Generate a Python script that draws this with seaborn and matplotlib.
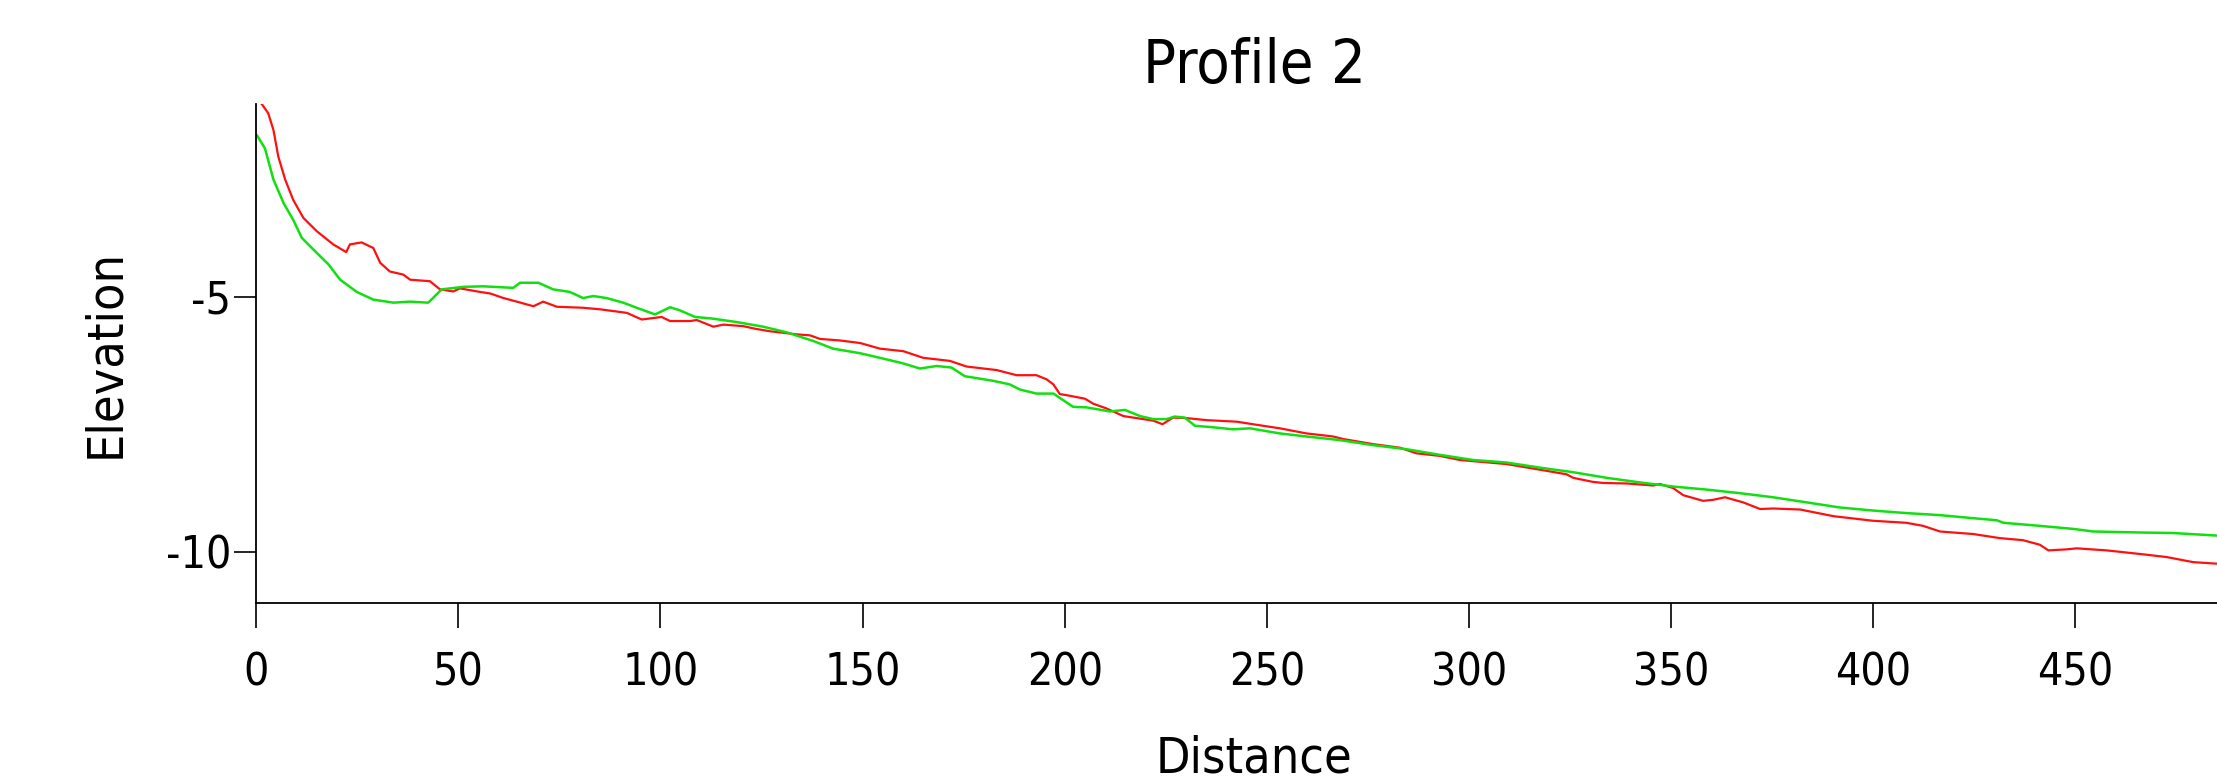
import numpy as np
import pandas as pd
import matplotlib
matplotlib.use('Agg')
import matplotlib.pyplot as plt
import seaborn as sns

# 读图得到的剖面数据 (距离, 高程)
dist_red = [0.5, 1.4, 3.0, 4.3, 5.5, 7.2, 9.2, 11.7, 15.0, 19.1, 22.3, 23.2, 26.1, 29.0, 30.7,
            33.1, 36.4, 38.1, 43.0, 45.5, 48.8, 50.4, 55.4, 57.9, 61.2, 64.5, 68.6, 71.0, 74.4,
            80.9, 85.1, 91.7, 95.4, 100.3, 102.4, 107.3, 109.0, 113.1, 115.6, 120.5, 123.4,
            127.1, 133.7, 137.0, 139.5, 144.4, 149.4, 154.3, 160.1, 165.0, 171.6, 175.7, 183.2,
            188.1, 193.0, 195.5, 197.2, 198.8, 200.4, 205.0, 207.1, 210.3, 214.5, 218.6, 221.9,
            224.2, 226.8, 230.1, 235.1, 242.5, 247.4, 253.2, 259.8, 266.4, 268.9, 276.3, 282.9,
            287.0, 292.8, 297.7, 309.3, 317.5, 324.1, 325.8, 330.7, 333.2, 339.0, 345.6, 347.2,
            350.5, 353.0, 357.9, 360.4, 363.3, 367.8, 372.0, 375.2, 381.9, 390.1, 399.9, 408.2,
            412.3, 416.5, 424.7, 431.3, 437.0, 441.2, 443.3, 447.8, 450.3, 457.7, 465.9, 472.5,
            479.1, 484.9]
elev_red = [-1.15, -1.23, -1.41, -1.74, -2.26, -2.71, -3.11, -3.46, -3.72, -3.98, -4.13, -3.98,
            -3.94, -4.05, -4.34, -4.51, -4.57, -4.67, -4.70, -4.86, -4.90, -4.84, -4.91, -4.94,
            -5.03, -5.10, -5.19, -5.10, -5.20, -5.22, -5.25, -5.32, -5.45, -5.40, -5.48, -5.48,
            -5.46, -5.59, -5.55, -5.58, -5.63, -5.68, -5.74, -5.76, -5.83, -5.86, -5.91, -6.02,
            -6.07, -6.20, -6.26, -6.37, -6.44, -6.54, -6.54, -6.62, -6.72, -6.91, -6.93, -7.00,
            -7.10, -7.19, -7.34, -7.39, -7.43, -7.50, -7.37, -7.38, -7.42, -7.45, -7.51, -7.58,
            -7.68, -7.74, -7.79, -7.89, -7.96, -8.07, -8.12, -8.20, -8.28, -8.39, -8.48, -8.55,
            -8.63, -8.65, -8.66, -8.70, -8.67, -8.75, -8.89, -9.00, -8.98, -8.93, -9.03, -9.16,
            -9.15, -9.17, -9.30, -9.39, -9.43, -9.49, -9.60, -9.65, -9.73, -9.77, -9.86, -9.97,
            -9.95, -9.93, -9.97, -10.04, -10.10, -10.20, -10.23]

dist_green = [0.2, 2.2, 4.3, 6.8, 9.2, 11.3, 13.8, 17.9, 20.8, 24.9, 29.0, 34.0, 38.1, 42.6,
              45.9, 51.3, 56.2, 63.6, 65.3, 69.8, 73.5, 77.6, 80.9, 83.4, 86.7, 90.8, 95.5,
              98.7, 102.4, 104.8, 108.6, 112.7, 118.9, 125.4, 131.2, 137.8, 142.7, 149.4, 155.9,
              160.1, 164.2, 168.3, 172.0, 175.3, 182.3, 186.4, 188.9, 193.0, 197.2, 202.1, 205.4,
              211.2, 214.9, 218.6, 221.9, 225.2, 227.2, 229.7, 232.2, 236.7, 241.7, 245.8, 253.2,
              259.8, 268.0, 276.3, 284.6, 292.8, 301.0, 309.3, 317.5, 325.8, 334.1, 342.3, 350.5,
              358.8, 367.0, 375.2, 383.5, 391.7, 399.9, 408.2, 416.5, 424.7, 430.5, 432.2, 441.2,
              449.5, 454.4, 465.9, 474.1, 484.9]
elev_green = [-1.84, -2.10, -2.71, -3.17, -3.50, -3.85, -4.05, -4.37, -4.67, -4.91, -5.06, -5.12,
              -5.10, -5.12, -4.86, -4.81, -4.80, -4.83, -4.73, -4.73, -4.86, -4.91, -5.03, -4.99,
              -5.03, -5.12, -5.26, -5.35, -5.21, -5.27, -5.40, -5.43, -5.50, -5.59, -5.70, -5.87,
              -6.02, -6.11, -6.23, -6.31, -6.41, -6.36, -6.39, -6.56, -6.65, -6.72, -6.82, -6.90,
              -6.90, -7.16, -7.17, -7.25, -7.22, -7.34, -7.40, -7.40, -7.35, -7.37, -7.53, -7.56,
              -7.60, -7.58, -7.68, -7.74, -7.81, -7.91, -7.99, -8.10, -8.20, -8.25, -8.35, -8.44,
              -8.55, -8.64, -8.72, -8.78, -8.85, -8.93, -9.03, -9.13, -9.19, -9.24, -9.28, -9.34,
              -9.38, -9.43, -9.49, -9.55, -9.60, -9.62, -9.63, -9.68]

x_ticks = [0, 50, 100, 150, 200, 250, 300, 350, 400, 450]
y_ticks = [-5, -10]

sns.set_style('white')
# 字体要在 set_style 之后设置 (细窄字体更接近原图)
plt.rcParams['font.family'] = ['DejaVu Sans']
plt.rcParams['font.stretch'] = 'condensed'
plt.rcParams['font.weight'] = 'light'
plt.rcParams['text.color'] = 'black'
plt.rcParams['axes.labelcolor'] = 'black'

fig = plt.figure(figsize=(22.17, 7.83), dpi=100)
ax = fig.add_axes([0.1155, 0.2299, 0.8845, 0.6373])

sns.lineplot(x=dist_red, y=elev_red, color='#ff1010', linewidth=1.6, ax=ax)
sns.lineplot(x=dist_green, y=elev_green, color='#10e010', linewidth=1.8, ax=ax)

ax.set_xlim(0, 485)
ax.set_ylim(-11.0, -1.23)
ax.set_xticks(x_ticks)
ax.set_yticks(y_ticks)
ax.set_xticklabels([str(t) for t in x_ticks])
ax.set_yticklabels([str(t) for t in y_ticks])

sns.despine(ax=ax)
for side in ['left', 'bottom']:
    ax.spines[side].set_color('black')
    ax.spines[side].set_linewidth(1.3)

# white 样式默认关掉刻度线, 这里重新打开
ax.tick_params(axis='x', bottom=True, direction='out', length=18, width=1.2, pad=17,
               labelsize=32, colors='black')
ax.tick_params(axis='y', left=True, direction='out', length=16, width=1.2, pad=2,
               labelsize=32, colors='black')

ax.set_title('Profile 2', fontsize=44, x=0.509, y=1.058, va='center', color='black')
ax.set_xlabel('Distance', fontsize=36, va='center')
ax.xaxis.set_label_coords(0.509, -0.311)
ax.set_ylabel('Elevation', fontsize=36, va='center')
ax.yaxis.set_label_coords(-0.0772, 0.5)

fig.savefig('out.png', dpi=100)
